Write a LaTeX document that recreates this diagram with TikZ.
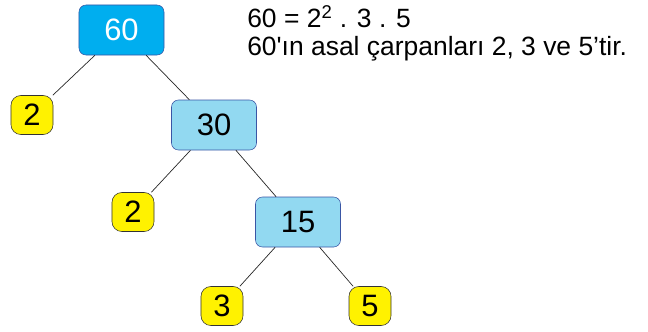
\documentclass[tikz,border=0pt]{standalone}
\usepackage{fontspec}
\setmainfont{Liberation Sans}
\newfontfamily\duzyazi{Liberation Sans}[Ligatures=ResetAll]
\usepackage{xcolor}
\usetikzlibrary{positioning}
\definecolor{koyumavi}{HTML}{00AEEF}
\definecolor{acikmavi}{HTML}{92D9F1}
\definecolor{sari}{HTML}{FFF200}
\definecolor{kenar}{HTML}{3A56A5}
\tikzset{
  sayi/.style={draw=kenar,rounded corners=5pt,minimum width=2.125cm,minimum height=1.25cm,
    font=\fontsize{22}{24}\selectfont,inner sep=0pt},
  asal/.style={draw=black!80,fill=sari,rounded corners=7pt,minimum width=1.05cm,minimum height=0.975cm,
    font=\fontsize{22}{24}\selectfont,inner sep=0pt},
  dal/.style={black!85,line width=0.5pt}
}
\begin{document}
\begin{tikzpicture}[x=0.025cm,y=-0.025cm]
		\useasboundingbox (0,0) rectangle (648,331);
		\node[sayi,fill=koyumavi,text=white] (n60) at (121.5,30) {60};
		\node[asal] (iki1) at (32,115) {2};
		\node[sayi,fill=acikmavi] (n30) at (214,125) {30};
		\node[asal] (iki2) at (133,212) {2};
		\node[sayi,fill=acikmavi] (n15) at (298,222) {15};
		\node[asal] (uc) at (222,306) {3};
		\node[asal] (bes) at (370,306) {5};
		\draw[dal] (n60) -- (iki1);
		\draw[dal] (n60) -- (n30);
		\draw[dal] (n30) -- (iki2);
		\draw[dal] (n30) -- (n15);
		\draw[dal] (n15) -- (uc);
		\draw[dal] (n15) -- (bes);
		\node[anchor=base west,inner sep=0pt,font=\fontsize{18.8}{22}\selectfont] (esitlik) at (247,27) {60 = 2\textsuperscript{2} . 3 . 5};
		\node[anchor=base west,inner sep=0pt,font=\fontsize{18.8}{22}\selectfont] (sonuc) at (247,55) {60{\duzyazi'}ın asal çarpanları 2, 3 ve 5’tir.};
		\end{tikzpicture}
\end{document}
